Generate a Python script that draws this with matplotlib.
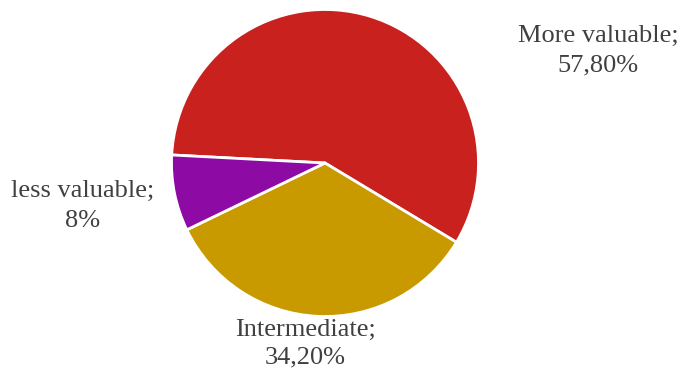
import matplotlib.pyplot as plt

categories = ["More valuable", "Intermediate", "less valuable"]
shares = [57.8, 34.2, 8.0]
colors = ["#C9211E", "#C99A00", "#8E0AA5"]

# label anchor points, in pixels from the top-left corner
label_pos = [(598, 51), (305, 344), (83, 206)]
label_spacing = [1.45, 1.3, 1.45]


def fmt(v):
    if float(v).is_integer():
        return "%d%%" % v
    return ("%.2f%%" % v).replace(".", ",")


W, H = 680, 371
fig = plt.figure(figsize=(W / 100, H / 100), dpi=100)
ax = fig.add_axes([0, 0, 1, 1])
ax.set_xlim(0, W)
ax.set_ylim(0, H)
ax.set_aspect("equal")
ax.axis("off")

ax.pie(shares, colors=colors, startangle=177, counterclock=False,
       center=(325, H - 163), radius=153.5,
       wedgeprops=dict(edgecolor="white", linewidth=2.0))

for name, v, (x, y), ls in zip(categories, shares, label_pos, label_spacing):
    ax.text(x, H - y, name + ";\n" + fmt(v), ha="center", va="center",
            family="Liberation Serif", fontsize=19, color="#404040",
            linespacing=ls)

ax.set_xlim(0, W)
ax.set_ylim(0, H)
fig.savefig("out.png", dpi=100)
